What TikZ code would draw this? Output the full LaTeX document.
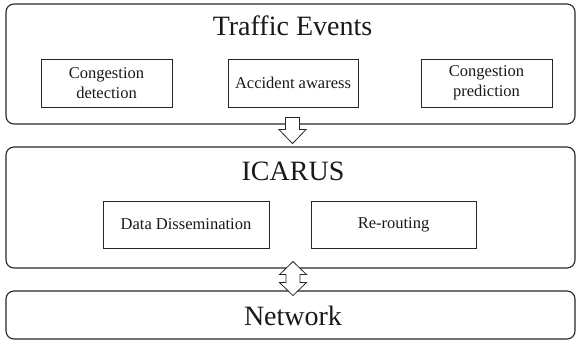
\documentclass[tikz,border=0pt]{standalone}
\usepackage{fontspec}
\setmainfont{Liberation Serif}
\usetikzlibrary{calc}
\begin{document}
\begin{tikzpicture}[x=1pt,y=-1pt,
  outerbox/.style={draw=black!85, line width=1.1pt, rounded corners=8pt, minimum width=569pt, inner sep=0pt},
  innerbox/.style={draw=black!85, line width=0.8pt, inner sep=0pt, align=center,
     font=\fontsize{16.5}{20}\selectfont, text=black!90},
  titletext/.style={anchor=base, inner sep=0pt, font=\fontsize{28}{32}\selectfont, text=black!90},
  blockarrow/.style={draw=black!85, line width=0.8pt, fill=white, line join=miter}
]
\useasboundingbox (0,0) rectangle (576,341);
% outer layers
\node[outerbox, minimum height=120pt] (te) at (290.5,64) {};
\node[outerbox, minimum height=121pt] (ic) at (290.5,207.5) {};
\node[outerbox, minimum height=48pt] (nw) at (290.5,315) {};
% titles
\node[titletext] (tet) at (292.5,35.7) {Traffic Events};
\node[titletext] (ict) at (293,180.7) {ICARUS};
\node[titletext] (nwt) at (293,325) {Network};
% inner boxes
\node[innerbox, minimum width=131pt, minimum height=48pt] (cd) at (106.5,83) {Congestion\\detection};
\node[innerbox, minimum width=130pt, minimum height=48pt] (aa) at (293,83) {Accident awaress};
\node[innerbox, minimum width=131pt, minimum height=48pt] (cp) at (486.5,83) {Congestion\\prediction};
\node[innerbox, minimum width=166pt, minimum height=47pt] (dd) at (186,224.5) {Data Dissemination};
\node[innerbox, minimum width=165pt, minimum height=47pt] (rr) at (393.5,224.5) {Re-routing};
% block arrows between layers
\coordinate (a1) at (te.south -| tet.base);
\coordinate (a2) at (ic.south -| ict.base);
\draw[blockarrow] ($(a1)+(-7,-7)$) -- ($(a1)+(7,-7)$) -- ($(a1)+(7,5)$) -- ($(a1)+(13.5,5)$)
  -- ($(a1)+(0,19)$) -- ($(a1)+(-13.5,5)$) -- ($(a1)+(-7,5)$) -- cycle;
\draw[blockarrow] ($(a2)+(0,-7)$) -- ($(a2)+(13.5,6)$) -- ($(a2)+(7,6)$) -- ($(a2)+(7,14)$)
  -- ($(a2)+(13.5,14)$) -- ($(a2)+(0,27)$) -- ($(a2)+(-13.5,14)$) -- ($(a2)+(-7,14)$)
  -- ($(a2)+(-7,6)$) -- ($(a2)+(-13.5,6)$) -- cycle;
\end{tikzpicture}
\end{document}
